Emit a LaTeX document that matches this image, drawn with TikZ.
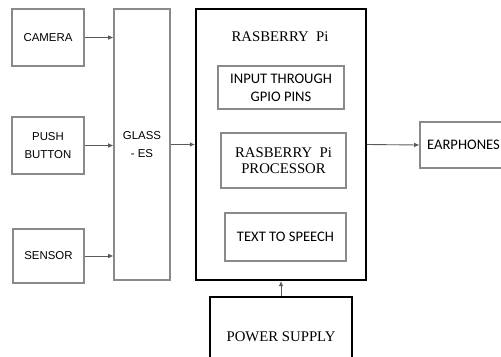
\documentclass[tikz,border=0pt]{standalone}
\usepackage{fontspec}
\setmainfont{Liberation Serif}
\newfontfamily\arialfont{Liberation Sans}
\newfontfamily\calfont{Carlito}
\usetikzlibrary{positioning,arrows.meta}
\definecolor{boxgrey}{HTML}{8A8A8A}
\definecolor{linegrey}{HTML}{5A5A5A}

\begin{document}
\begin{tikzpicture}[
  blk/.style={draw=boxgrey, line width=0.6pt, align=center, inner sep=0pt,
    font=\arialfont\fontsize{6.5}{10}\selectfont},
  thk/.style={draw=black, line width=1.1pt, inner sep=0pt},
  sub/.style={blk, font=\calfont\fontsize{8.3}{10.4}\selectfont},
  lbl/.style={font=\fontsize{8.4}{9.3}\selectfont},
  arr/.style={draw=linegrey, line width=0.5pt, -{Latex[length=3pt,width=2.6pt]}},
]

% frame
\useasboundingbox (0,0) rectangle (10.02,7.12);
\clip (0,0) rectangle (10.02,7.12);

% ============ inputs ============
\node[blk, minimum width=1.44cm, minimum height=1.14cm] (cam) at (0.96,6.37) {CAMERA};
\node[blk, minimum width=1.44cm, minimum height=1.14cm] (btn) at (0.96,4.21) {PUSH\\BUTTON};
\node[blk, minimum width=1.42cm, minimum height=1.08cm] (sns) at (0.97,2.00) {SENSOR};

% glasses column
\node[blk, minimum width=1.12cm, minimum height=5.42cm] (gls) at (2.84,4.23) {GLASS\\- ES};

% ============ Raspberry Pi block ============
\node[thk, minimum width=3.40cm, minimum height=5.42cm] (rpi) at (5.62,4.23) {};
\node[lbl] (rpit) at (5.60,6.38) {RASBERRY~ Pi};
\node[sub, minimum width=2.52cm, minimum height=0.86cm] (gpio) at (5.62,5.37) {INPUT THROUGH\\GPIO PINS};
\node[blk, lbl, minimum width=2.50cm, minimum height=1.10cm] (proc) at (5.67,3.91) {RASBERRY~ Pi\\PROCESSOR};
\node[sub, minimum width=2.42cm, minimum height=0.96cm] (tts) at (5.71,2.38) {TEXT TO SPEECH};

% power supply (runs off the bottom edge)
\node[thk, lbl, minimum width=2.84cm, minimum height=1.60cm] (pwr) at (5.62,0.38) {POWER SUPPLY};

% output (runs off the right edge)
\node[sub, minimum width=1.74cm, minimum height=0.92cm] (ear) at (9.27,4.22) {EARPHONES};

% ============ connectors ============
\draw[arr] (cam.east) -- (cam.east -| gls.west);
\draw[arr] (btn.east) -- (btn.east -| gls.west);
\draw[arr] (sns.east) -- (sns.east -| gls.west);
\draw[arr] (gls.east) -- (rpi.west);
\draw[arr] (rpi.east) -- (ear.west);
\draw[arr] (pwr.north) -- (rpi.south);

\end{tikzpicture}
\end{document}
